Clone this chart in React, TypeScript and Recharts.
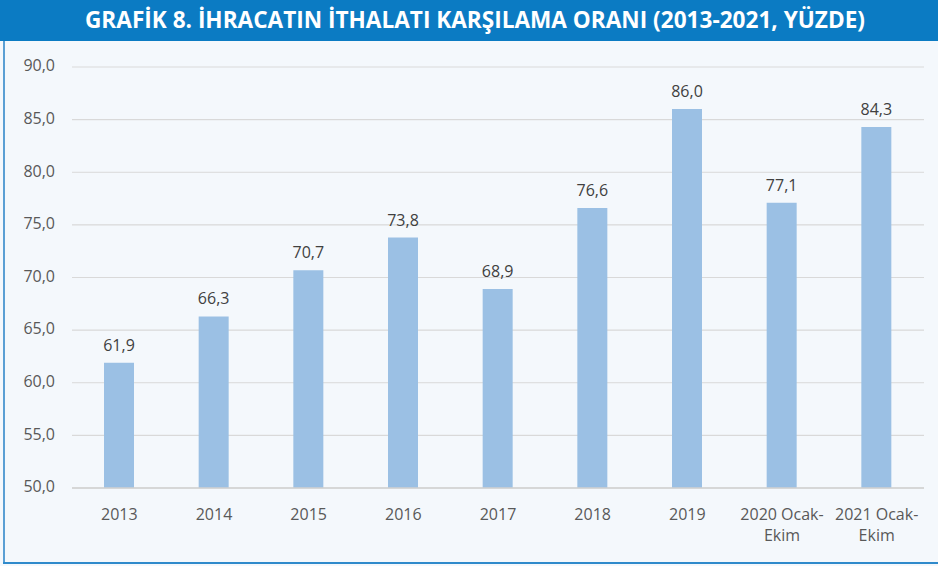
import React from "react";
import { BarChart, Bar, XAxis, YAxis, CartesianGrid, LabelList } from "recharts";

const categories = ["2013", "2014", "2015", "2016", "2017", "2018", "2019", "2020 Ocak-Ekim", "2021 Ocak-Ekim"];
const values = [61.9, 66.3, 70.7, 73.8, 68.9, 76.6, 86.0, 77.1, 84.3];
const yTicks = [50, 55, 60, 65, 70, 75, 80, 85, 90];
const title = "GRAFİK 8. İHRACATIN İTHALATI KARŞILAMA ORANI (2013-2021, YÜZDE)";

const data = categories.map((c, i) => ({ name: c, value: values[i] }));
const fmt = (v: number) => v.toFixed(1).replace(".", ",");
const FONT = "'Open Sans', 'Noto Sans', sans-serif";

const XTick = (props: any) => {
  const { x, y, payload } = props;
  const label: string = payload.value;
  const m = label.match(/^(\d{4}) (Ocak-)(\w+)$/);
  const lines = m ? [`${m[1]} ${m[2]}`, m[3]] : [label];
  return (
    <g>
      {lines.map((l, i) => (
        <text key={i} x={x} y={y + 20 + i * 21} textAnchor="middle" dominantBaseline="middle"
          fill="#595959" fontSize={16} fontFamily={FONT}>{l}</text>
      ))}
    </g>
  );
};

const YTick = (props: any) => {
  const { y, payload } = props;
  return (
    <text x={55} y={y} textAnchor="end" dominantBaseline="middle" fill="#595959" fontSize={16} fontFamily={FONT}>
      {fmt(payload.value)}
    </text>
  );
};

export default function App() {
  return (
    <div style={{ position: "absolute", left: 0, top: 0, width: 938, height: 566, background: "#F4F8FC", overflow: "hidden" }}>
      <div style={{ position: "absolute", left: 0, top: 0, width: 938, height: 41, background: "#0B7BC3" }} />
      <div style={{ position: "absolute", left: 3, top: 41, width: 2, height: 523, background: "#5A9FD4" }} />
      <div style={{ position: "absolute", left: 3, top: 562, width: 935, height: 2, background: "#2F8ACB" }} />
      <svg style={{ position: "absolute", left: 0, top: 0 }} width={938} height={41}>
        <text x={475} y={22} textAnchor="middle" dominantBaseline="middle" fill="#FFFFFF" fontSize={23}
          fontWeight={700} fontFamily={FONT} textLength={780} lengthAdjust="spacingAndGlyphs">{title}</text>
      </svg>
      <div style={{ position: "absolute", left: 0, top: 0 }}>
        <BarChart width={938} height={566} data={data} margin={{ top: 67, right: 14, bottom: 18, left: 0 }}>
          <CartesianGrid horizontal vertical={false} stroke="#D9D9D9" strokeWidth={1.2} />
          <XAxis dataKey="name" height={60} tickLine={false} axisLine={{ stroke: "#D0D0D0", strokeWidth: 1.5 }}
            interval={0} tick={<XTick />} />
          <YAxis width={72} domain={[50, 90]} ticks={yTicks} axisLine={false} tickLine={false} tick={<YTick />}
            allowDataOverflow />
          <Bar dataKey="value" fill="#9BC0E4" barSize={30} isAnimationActive={false}>
            <LabelList dataKey="value" position="top" offset={12} formatter={(v: any) => fmt(Number(v))}
              fill="#404040" fontSize={16} fontFamily={FONT} />
          </Bar>
        </BarChart>
      </div>
    </div>
  );
}
